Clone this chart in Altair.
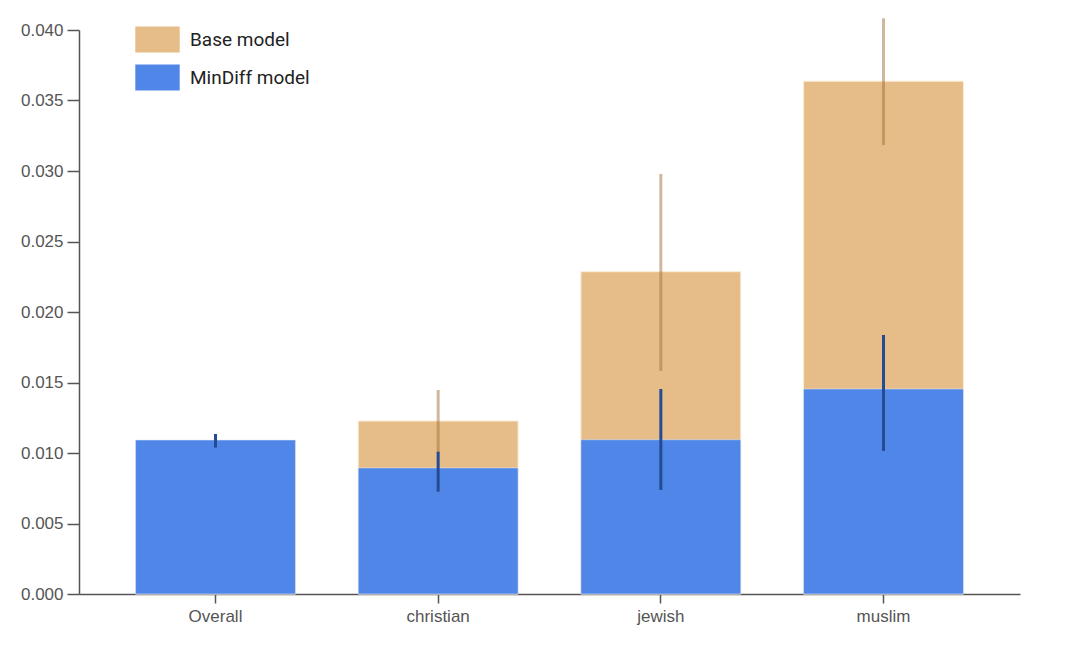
import altair as alt
import pandas as pd

categories = ["Overall", "christian", "jewish", "muslim"]
models = ["Base model", "MinDiff model"]

base_values = [0.0109, 0.01227, 0.02286, 0.03637]
base_lower = [0.01038, 0.0100, 0.01582, 0.03184]
base_upper = [0.01135, 0.01447, 0.02979, 0.04083]

mindiff_values = [0.01092, 0.00894, 0.01094, 0.01454]
mindiff_lower = [0.01038, 0.00726, 0.00738, 0.01014]
mindiff_upper = [0.01135, 0.01009, 0.01454, 0.01837]

y_ticks = [0.0, 0.005, 0.010, 0.015, 0.020, 0.025, 0.030, 0.035, 0.040]

rows = []
for i, c in enumerate(categories):
    rows.append({"group": c, "model": models[0], "value": base_values[i],
                 "lo": base_lower[i], "hi": base_upper[i]})
    rows.append({"group": c, "model": models[1], "value": mindiff_values[i],
                 "lo": mindiff_lower[i], "hi": mindiff_upper[i]})
df = pd.DataFrame(rows)
base_df = df[df.model == models[0]]
md_df = df[df.model == models[1]]

x = alt.X("group:N", sort=categories, title=None,
          scale=alt.Scale(paddingInner=0.282, paddingOuter=0.254),
          axis=alt.Axis(labelAngle=0, tickSize=9, labelFontSize=17, labelFont="Liberation Sans",
                        labelColor="#555", domainColor="#555", tickColor="#555",
                        domainWidth=1.5, tickWidth=1.5, labelPadding=5))
y = alt.Y("value:Q", title=None,
          scale=alt.Scale(domain=[0, 0.040], nice=False),
          axis=alt.Axis(values=y_ticks, format=".3f", tickSize=12, labelFontSize=17,
                        labelFont="Liberation Sans", labelColor="#555", domainColor="#555",
                        tickColor="#555", domainWidth=1.5, tickWidth=1.5, labelPadding=4,
                        grid=False))

color = alt.Color("model:N", scale=alt.Scale(domain=models, range=["#E6BD88", "#5086E8"]),
                  legend=alt.Legend(title=None, orient="none", legendX=60, legendY=-9,
                                    symbolType="M-1.2,-0.7H1.2V0.7H-1.2Z", symbolSize=1369,
                                    symbolStrokeWidth=0, symbolOpacity=1,
                                    labelFontSize=19, labelFont="Roboto", labelColor="#222",
                                    labelOffset=14, rowPadding=6))

base_bar = alt.Chart(base_df).mark_bar(stroke="#FBEBD5", strokeWidth=1, opacity=1).encode(
    x=x, y=y, color=color)
base_err = alt.Chart(base_df).mark_rule(color="#a0723a", opacity=0.5, strokeWidth=3, clip=False).encode(
    x=alt.X("group:N", sort=categories), y="lo:Q", y2="hi:Q")
md_bar = alt.Chart(md_df).mark_bar(stroke="#E6EEFC", strokeWidth=0.5, opacity=1).encode(
    x=x, y=y, color=color)
md_err = alt.Chart(md_df).mark_rule(color="#234C94", strokeWidth=3, clip=False).encode(
    x=alt.X("group:N", sort=categories), y="lo:Q", y2="hi:Q")

chart = alt.layer(base_bar, base_err, md_bar, md_err).properties(
    width=941, height=564,
    autosize=alt.AutoSizeParams(type="none"),
    padding={"left": 71, "top": 22, "right": 40, "bottom": 40},
).configure_view(stroke=None)

chart.save("out.html", embed_options={"renderer": "svg", "actions": False})
